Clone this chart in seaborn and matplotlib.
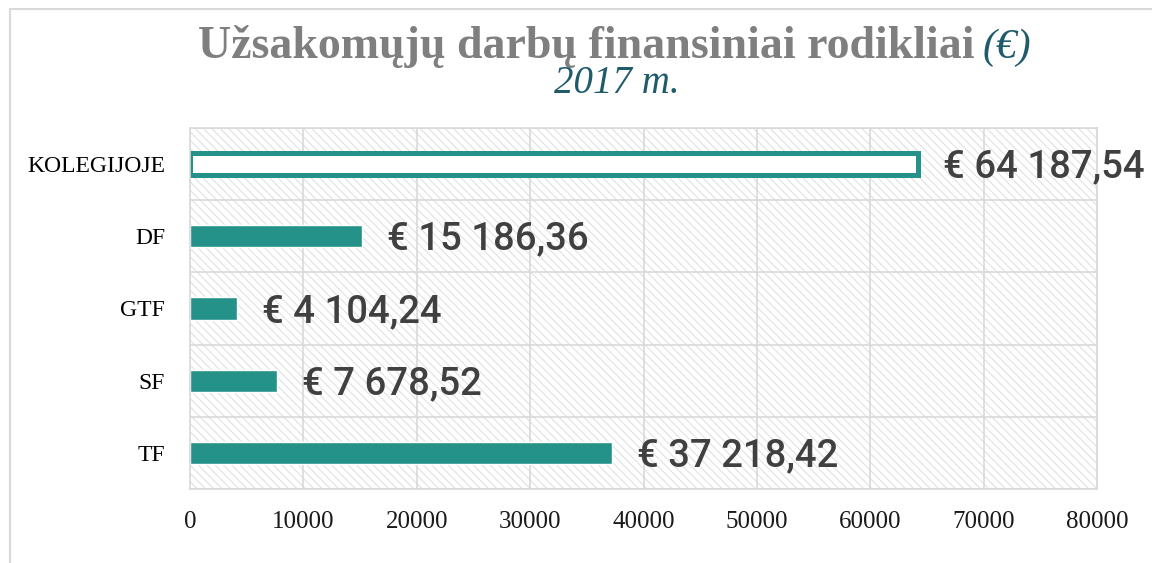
import matplotlib
matplotlib.use('Agg')
import matplotlib.pyplot as plt
from matplotlib.patches import Rectangle
from matplotlib.lines import Line2D
import seaborn as sns
import numpy as np

# ── Data ───────────────────────────────────────────────────────────────────────
categories = ['KOLEGIJOJE', 'DF', 'GTF', 'SF', 'TF']
amounts = [64187.54, 15186.36, 4104.24, 7678.52, 37218.42]
x_ticks = [0, 10000, 20000, 30000, 40000, 50000, 60000, 70000, 80000]

TEAL = '#25928A'
DARK_TEAL = '#1F5B6B'
GRID = '#D9D9D9'

sns.set_style('white')
plt.rcParams['font.family'] = ['Liberation Serif', 'DejaVu Serif']
plt.rcParams['hatch.linewidth'] = 0.7

fig = plt.figure(figsize=(11.52, 5.63), dpi=100)
ax = fig.add_axes([190 / 1152, 1 - 489 / 563, (1097 - 190) / 1152, (489 - 128) / 563])

# hatched plot background
ax.add_patch(Rectangle((0, 0), 1, 1, transform=ax.transAxes, facecolor='white',
                       edgecolor='#DEDEDE', hatch='\\\\\\\\', lw=0, zorder=0))

sns.barplot(x=amounts, y=categories, orient='h', color=TEAL, width=0.31,
            saturation=1, ax=ax, zorder=2)

# first bar (total) drawn as outline only
first = ax.patches[-len(categories)]
first.set_facecolor('white')
first.set_edgecolor(TEAL)
first.set_linewidth(3.6)

ax.set_xlim(0, 80000)
ax.set_ylim(len(categories) - 0.5, -0.5)
ax.set_xticks(x_ticks)
ax.set_xticklabels([str(t) for t in x_ticks], fontsize=18, color='#1a1a1a')
ax.set_yticks(np.arange(-0.5, len(categories)), minor=True)
ax.tick_params(axis='x', length=0, pad=16)
ax.tick_params(axis='y', which='major', length=0, pad=18, labelsize=17, labelcolor='black')
ax.tick_params(axis='y', which='minor', length=5, color=GRID, width=1.2)
ax.grid(axis='x', color=GRID, lw=1.2)
ax.grid(axis='y', which='minor', color=GRID, lw=1.2)
ax.set_axisbelow(True)
for s in ax.spines.values():
    s.set_color(GRID)
    s.set_linewidth(1.2)
ax.set_xlabel('')
ax.set_ylabel('')

# value labels
for i, v in enumerate(amounts):
    txt = '€ ' + f'{v:,.2f}'.replace(',', ' ').replace('.', ',')
    ax.annotate(txt, xy=(v, i), xytext=(18, -2), textcoords='offset points',
                ha='left', va='center', fontsize=27.5, color='#404040',
                family=['Roboto', 'DejaVu Sans'], fontweight='medium')

# title
fig.text(975 / 1152, 1 - 58 / 563, 'Užsakomųjų darbų finansiniai rodikliai',
         ha='right', va='baseline', fontsize=33, fontweight='bold', color='#7F7F7F')
fig.text(983 / 1152, 1 - 58 / 563, '(€)', ha='left', va='baseline',
         fontsize=30, style='italic', color=DARK_TEAL)
fig.text(617 / 1152, 1 - 93 / 563, '2017 m.', ha='center', va='baseline',
         fontsize=28, style='italic', color=DARK_TEAL)

# chart frame (cropped at right and bottom)
fig.add_artist(Line2D([10 / 1152, 10 / 1152], [0, 1 - 9 / 563], transform=fig.transFigure,
                      color=GRID, lw=1.5))
fig.add_artist(Line2D([10 / 1152, 1], [1 - 9 / 563, 1 - 9 / 563], transform=fig.transFigure,
                      color=GRID, lw=1.5))

fig.savefig('out.png', dpi=100)
